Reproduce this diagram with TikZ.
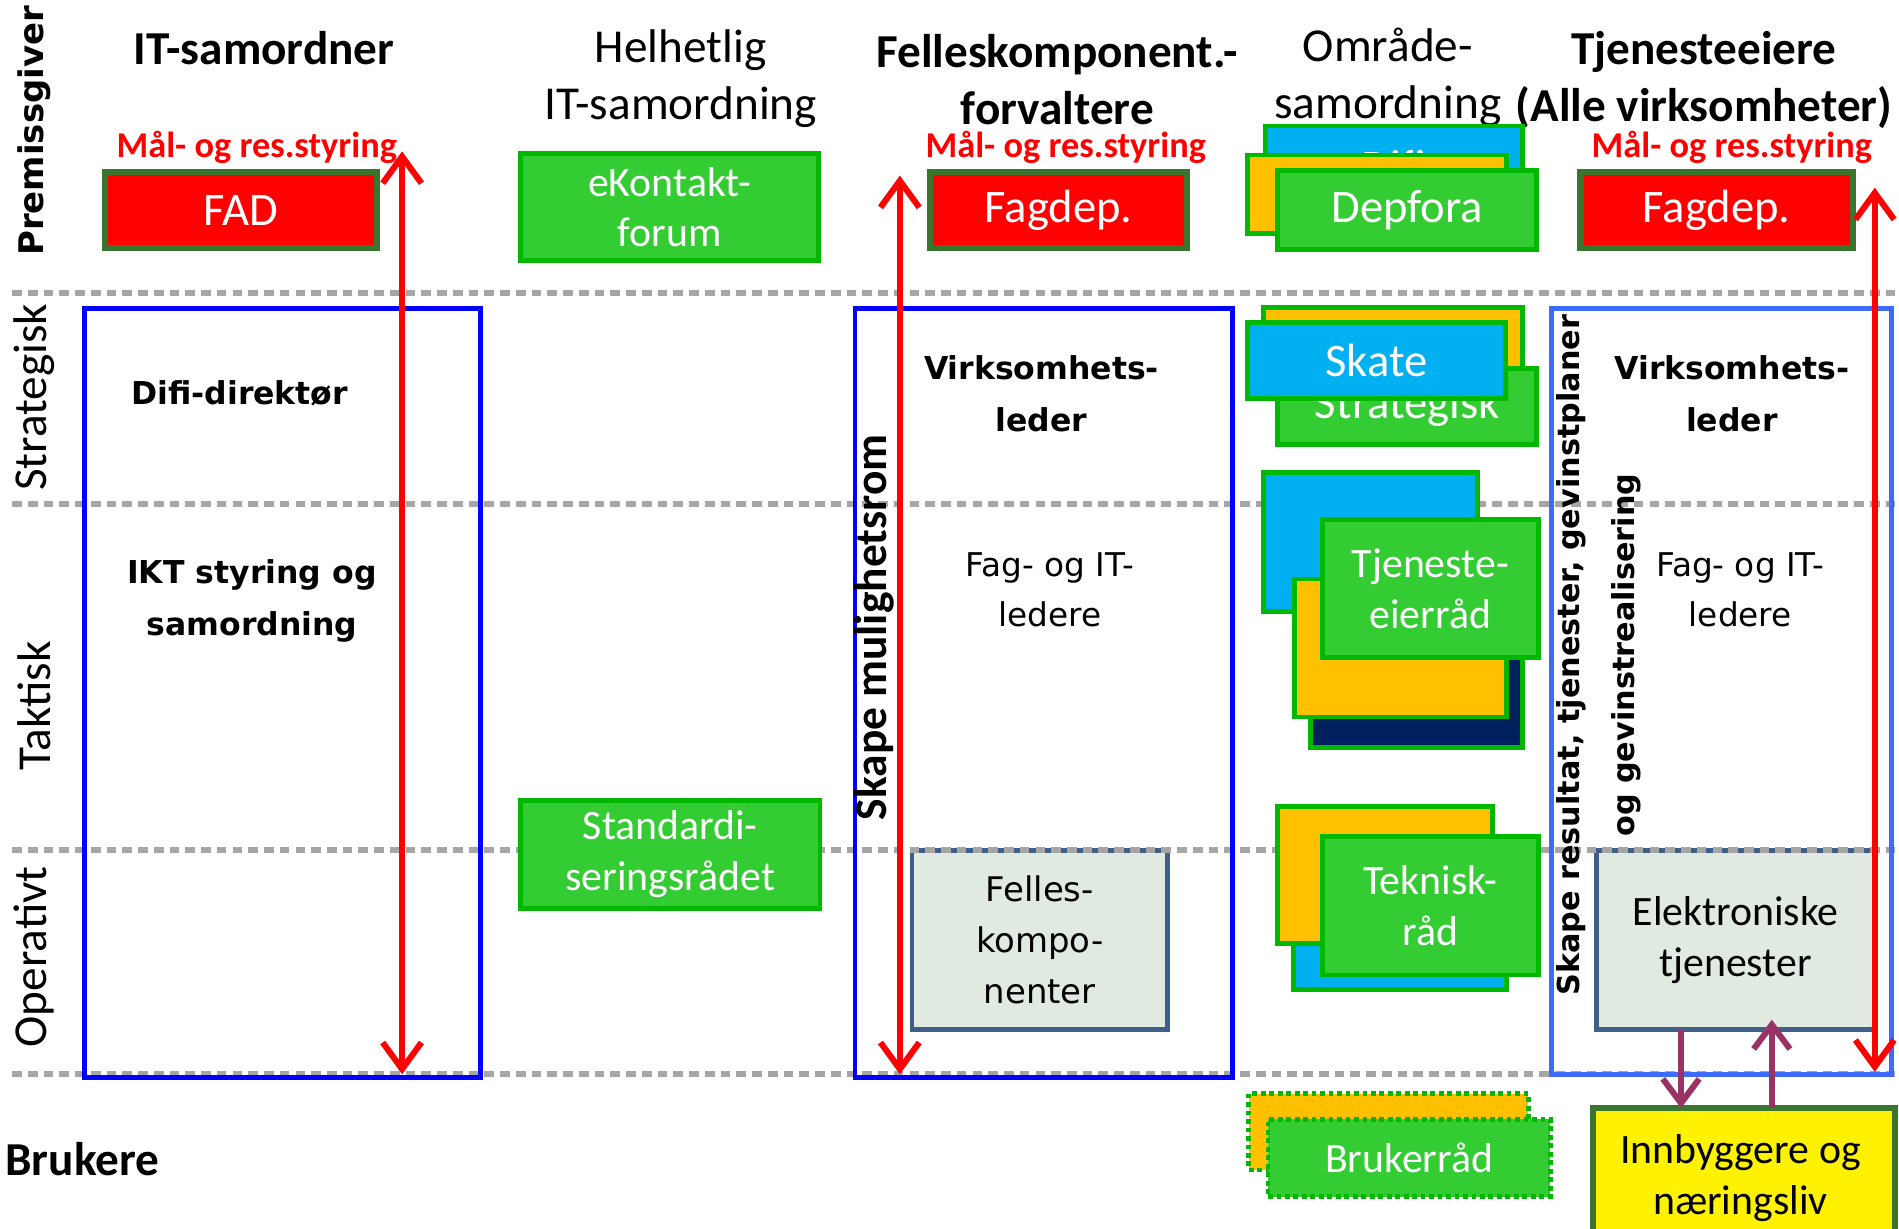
\documentclass[tikz,border=0pt]{standalone}
\usepackage{fontspec}
\setmainfont{Carlito}
\newfontfamily\verdfont{DejaVu Sans}
\usepackage{tikz}
\usetikzlibrary{arrows.meta}
\definecolor{darkgrn}{HTML}{3A7530}
\definecolor{brgrn}{HTML}{00B800}
\definecolor{grnfill}{HTML}{33CC33}
\definecolor{orangefill}{HTML}{FFC000}
\definecolor{bluefill}{HTML}{00B0F0}
\definecolor{navyfill}{HTML}{002060}
\definecolor{lagblue}{HTML}{0000FF}
\definecolor{lagblueb}{HTML}{3D6BFF}
\definecolor{slate}{HTML}{3F5F8A}
\definecolor{palegrey}{HTML}{E0EAE0}
\definecolor{lilla}{HTML}{993366}
\definecolor{dotgrey}{HTML}{A6A6A6}
\newcommand{\hdsize}{\fontsize{19.5pt}{23.5pt}\selectfont}
\newcommand{\boxsize}{\fontsize{17.25pt}{21pt}\selectfont}
\newcommand{\bigboxsize}{\fontsize{19.25pt}{21pt}\selectfont}
\newcommand{\goalsize}{\fontsize{15pt}{18pt}\selectfont}
\newcommand{\verdbold}{\verdfont\bfseries\fontsize{13pt}{21.5pt}\selectfont}
\newcommand{\verdreg}{\verdfont\fontsize{13.5pt}{21pt}\selectfont}

\begin{document}
\begin{tikzpicture}[x=0.5pt,y=-0.5pt]
\tikzstyle{every node}+=[inner sep=0pt, outer sep=0pt]
\tikzstyle{redbox}=[draw=darkgrn, fill=red, line width=2.5pt, text=white, font=\bigboxsize]
\tikzstyle{grnbox}=[draw=brgrn, fill=grnfill, line width=2pt, text=white, align=center, font=\boxsize]
\tikzstyle{orgbox}=[draw=brgrn, fill=orangefill, line width=2pt]
\tikzstyle{bluebox}=[draw=brgrn, fill=bluefill, line width=2pt, text=white, font=\bigboxsize]
\tikzstyle{navybox}=[draw=brgrn, fill=navyfill, line width=2pt]
\tikzstyle{lagframe}=[draw=lagblue, line width=2pt]
\tikzstyle{greybox}=[draw=slate, fill=palegrey, line width=2pt, align=center]
\tikzstyle{gridline}=[dotgrey, line width=2.5pt, dash pattern=on 4pt off 2.5pt]
\tikzstyle{redarrow}=[red, line width=2.5pt, {Straight Barb[length=11pt,width=16pt]}-{Straight Barb[length=11pt,width=16pt]}]
\tikzstyle{purarrow}=[lilla, line width=2.5pt, -{Straight Barb[length=10pt,width=15pt]}]
\tikzstyle{head}=[font=\hdsize, align=center]
\tikzstyle{goal}=[text=red, font=\bfseries\goalsize]
\tikzstyle{lagname}=[rotate=90, font=\hdsize]
\useasboundingbox (0,0) rectangle (1568,1014);
\node (premiss) [rotate=90, font=\verdfont\bfseries\fontsize{14pt}{16pt}\selectfont] at (28,108) {Premissgiver};
\node (strat) [lagname] at (28,328) {Strategisk};
\node (takt) [lagname] at (28,583) {Taktisk};
\node (oper) [lagname] at (28,790) {Operativt};
\node (brukere) [head, font=\bfseries\hdsize] at (68,957) {Brukere};
\node (felles) [greybox, minimum width=105.5pt, minimum height=74pt, font=\verdfont\fontsize{14pt}{21pt}\selectfont] at (858.5,776) {Felles-\\kompo-\\nenter};
\node (elektron) [greybox, minimum width=115pt, minimum height=74pt, font=\boxsize] at (1433,776) {Elektroniske\\tjenester};
\draw [gridline] (10,242) -- (1568,242);
\draw [gridline] (10,416) -- (1568,416);
\draw [gridline] (10,702) -- (1568,702);
\draw [gridline] (10,887) -- (1568,887);
\node (frameA) [lagframe, minimum width=163.5pt, minimum height=317.5pt] at (233.5,572.5) {};
\node (frameB) [lagframe, minimum width=156pt, minimum height=317.5pt] at (862,572.5) {};
\node (frameC) [lagframe, draw=lagblueb, minimum width=140.5pt, minimum height=316pt] at (1421.5,571) {};
\node (itsam) [head, font=\bfseries\hdsize] at (218,40) {IT-samordner};
\node (helhet) [head] at (562,65) {Helhetlig\\IT-samordning};
\node (fkforv) [head, font=\bfseries\hdsize] at (873,66) {Felleskomponent.-\\forvaltere};
\node (omraade) [head] at (1146,64) {Område-\\samordning};
\node (tjeier) [head, font=\bfseries\hdsize] at (1407,66) {Tjenesteeiere\\(Alle virksomheter)};
\node (goalA) [goal] at (212,122) {Mål- og res.styring};
\node (goalB) [goal] at (880,122) {Mål- og res.styring};
\node (goalC) [goal] at (1430,122) {Mål- og res.styring};
\node (fad) [redbox, minimum width=112pt, minimum height=31.5pt] at (199,173.5) {FAD};
\node (fagA) [redbox, minimum width=106pt, minimum height=31.5pt] at (874,173.5) {Fagdep.};
\node (fagB) [redbox, minimum width=112.5pt, minimum height=31.5pt] at (1417.5,173.5) {Fagdep.};
\node (ekontakt) [grnbox, minimum width=123pt, minimum height=44pt] at (553,171) {eKontakt-\\forum};
\node (standard) [grnbox, minimum width=123.5pt, minimum height=44.5pt] at (553.5,705.5) {Standardi-\\seringsrådet};
\node (difi) [bluebox, minimum width=106pt, minimum height=33pt] at (1151,137) {Difi};
\node (deporg) [orgbox, minimum width=107pt, minimum height=32.5pt] at (1137,160.5) {};
\node (depfora) [grnbox, font=\bigboxsize, minimum width=107pt, minimum height=32.5pt] at (1162,173.5) {Depfora};
\node (skorg) [orgbox, minimum width=107pt, minimum height=33pt] at (1150,287) {};
\node (strategisk) [grnbox, font=\bigboxsize, minimum width=107pt, minimum height=31.5pt] at (1162,335.5) {Strategisk};
\node (skate) [bluebox, minimum width=106.5pt, minimum height=31.5pt] at (1136.5,297.5) {Skate};
\node (tjblue) [bluebox, minimum width=88.5pt, minimum height=57.5pt] at (1131.5,447.5) {};
\node (tjnavy) [navybox, minimum width=87.5pt, minimum height=58.5pt] at (1169.5,558.5) {};
\node (tjorg) [orgbox, minimum width=87.5pt, minimum height=57pt] at (1156.5,535) {};
\node (tjgrn) [grnbox, minimum width=89pt, minimum height=57pt] at (1181,486) {Tjeneste-\\eierråd};
\node (tkblue) [bluebox, minimum width=88pt, minimum height=58.5pt] at (1156,758.5) {};
\node (tkorg) [orgbox, minimum width=88.5pt, minimum height=56.5pt] at (1143.5,722.5) {};
\node (tkgrn) [grnbox, minimum width=89pt, minimum height=57pt] at (1181,748) {Teknisk-\\råd};
\node (brorg) [orgbox, dash pattern=on 2pt off 1.5pt, minimum width=115.5pt, minimum height=31.5pt] at (1146.5,934.5) {};
\node (brgrn) [grnbox, dash pattern=on 2pt off 1.5pt, minimum width=116.5pt, minimum height=32pt] at (1163.5,956) {Brukerråd};
\node (innb) [draw=darkgrn, fill=yellow, line width=2.5pt, align=center, font=\boxsize, minimum width=125pt, minimum height=55pt] at (1440,970) {};
\node (innbtxt) [align=center, font=\boxsize] at (1437,973) {Innbyggere og\\næringsliv};
\node (difidir) [font=\verdbold] at (198,325) {Difi-direktør};
\node (ikt) [align=center, font=\verdbold] at (208,496) {IKT styring og\\samordning};
\node (virkA) [align=center, font=\verdbold] at (860,325) {Virksomhets-\\leder};
\node (fagitA) [align=center, font=\verdreg] at (867,487) {Fag- og IT-\\ledere};
\node (virkB) [align=center, font=\verdbold] at (1430,325) {Virksomhets-\\leder};
\node (fagitB) [align=center, font=\verdreg] at (1437,487) {Fag- og IT-\\ledere};
\node (mulighet) [rotate=90, font=\bfseries\fontsize{18.75pt}{21pt}\selectfont] at (722,518) {Skape mulighetsrom};
\node (resultat) [rotate=90, align=center, font=\verdfont\bfseries\fontsize{12.5pt}{22.5pt}\selectfont] at (1320,541) {Skape resultat, tjenester, gevinstplaner\\og gevinstrealisering};
\coordinate (arrA1) at (332,125);
\coordinate (arrA2) at (332,887);
\coordinate (arrB1) at (743,145);
\coordinate (arrB2) at (743,887);
\coordinate (arrC1) at (1548,155);
\coordinate (arrC2) at (1548,885);
\coordinate (dn) at (1388,0);
\coordinate (up) at (1463,0);
\draw [purarrow] (elektron.south -| dn) -- (innb.north -| dn);
\draw [purarrow] (innb.north -| up) -- ([yshift=4pt]elektron.south -| up);
\draw [redarrow] (arrA1) -- (arrA2);
\draw [redarrow] (arrB1) -- (arrB2);
\draw [redarrow] (arrC1) -- (arrC2);
\end{tikzpicture}
\end{document}
